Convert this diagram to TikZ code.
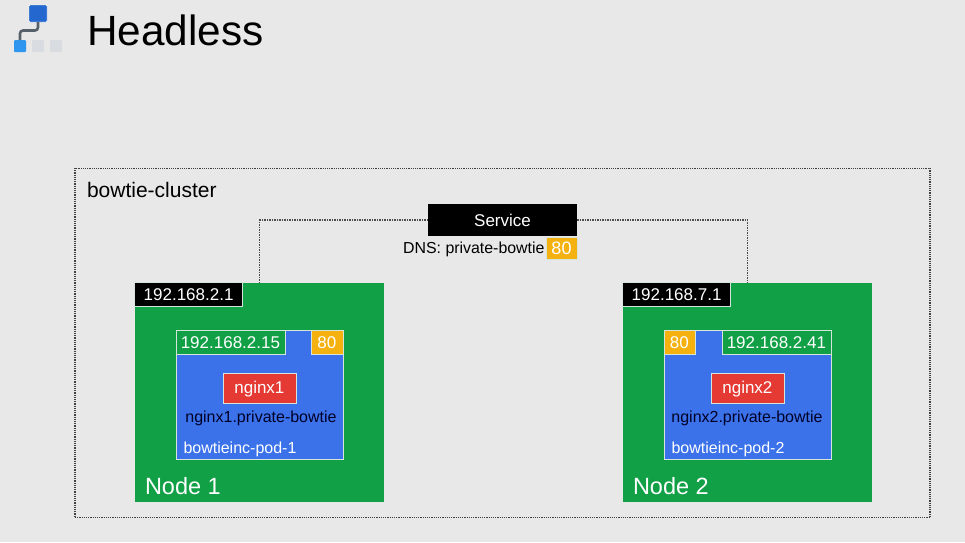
\documentclass[tikz,border=0pt]{standalone}
\usepackage{fontspec}
\setmainfont{Liberation Sans}
\definecolor{pagegrey}{HTML}{E8E8E8}
\definecolor{nodegreen}{HTML}{11A046}
\definecolor{podblue}{HTML}{3B72EA}
\definecolor{nginxred}{HTML}{E53A33}
\definecolor{portyellow}{HTML}{F5B10F}
\definecolor{edgewhite}{HTML}{D5E5DC}
\definecolor{iconblue}{HTML}{2468CF}
\definecolor{iconsky}{HTML}{2E96EE}
\definecolor{icongrey}{HTML}{D8DBDF}
\definecolor{iconline}{HTML}{56616B}
\newcommand{\px}[1]{\fontsize{#1}{#1}\selectfont}
\begin{document}
\begin{tikzpicture}[x=1pt,y=-1pt]
\tikzstyle{every node}+=[inner sep=0pt,outer sep=0pt]
\tikzstyle{box}=[anchor=north west,draw=edgewhite,line width=0.8pt,text=white,align=center]
\tikzstyle{link}=[draw=black!70,line width=1.5pt,densely dotted]
\tikzstyle{iconbox}=[anchor=north west,rounded corners=1pt]
\useasboundingbox (0,0) rectangle (965,542);
\fill [pagegrey] (0,0) rectangle (965,542);
% icon and title
\draw (29,5) node (iconbig) [iconbox,fill=iconblue,draw=white,minimum width=18pt,minimum height=17pt] {};
\draw (14,40) node (iconsmall) [iconbox,fill=iconsky,minimum width=12pt,minimum height=12pt] {};
\draw (32,40) node (icongreyone) [iconbox,fill=icongrey,minimum width=12pt,minimum height=12pt] {};
\draw (50,40) node (icongreytwo) [iconbox,fill=icongrey,minimum width=12pt,minimum height=12pt] {};
\draw [iconline,line width=2.6pt,rounded corners=3pt] (iconbig.south) -- (38,30.5) -- (20,30.5) -- (iconsmall.north);
\draw (87,30.5) node (title) [anchor=west,text=black] {\px{42.3}Headless};
% cluster
\draw (74.9,168.3) node (cluster) [anchor=north west,draw=black!75,line width=1.2pt,densely dotted,minimum width=855pt,minimum height=349.5pt] {};
\draw (87,190) node (clusterlabel) [anchor=west] {\px{21}bowtie-cluster};
% node boxes
\draw (135,283) node (nodeone) [anchor=north west,fill=nodegreen,minimum width=249pt,minimum height=219pt] {};
\draw (623,283) node (nodetwo) [anchor=north west,fill=nodegreen,minimum width=249pt,minimum height=219pt] {};
% service
\draw (428,204) node (service) [anchor=north west,fill=black,text=white,minimum width=149pt,minimum height=32pt] {\px{17}Service};
\draw (544.5,249.2) node (dnslabel) [anchor=east] {\px{15.9}DNS: private-bowtie};
\draw (546,237) node (serviceport) [box,fill=portyellow,minimum width=31pt,minimum height=22pt] {\px{18}80};
\draw [link] (service.west) -| (nodeone.north);
\draw [link] (service.east) -| (nodetwo.north);
% node 1
\draw (134.6,282.6) node (ipone) [box,fill=black,minimum width=108pt,minimum height=24pt] {\px{17}192.168.2.1};
\draw (175.9,330.8) node (podone) [box,fill=podblue,minimum width=167pt,minimum height=129pt] {};
\draw (175.9,330.8) node (podipone) [box,fill=nodegreen,minimum width=109pt,minimum height=24pt] {\px{17}192.168.2.15};
\draw (310.9,330.8) node (portone) [box,fill=portyellow,minimum width=32pt,minimum height=24pt] {\px{17}80};
\draw (222.9,373.8) node (nginxone) [box,fill=nginxred,minimum width=73pt,minimum height=30pt] {\px{17}nginx1};
\draw (261,418.2) node (dnsone) [text=black!85!blue] {\px{16}nginx1.private-bowtie};
\draw (183.5,449.2) node (podlabelone) [anchor=west,text=white] {\px{16}bowtieinc-pod-1};
\draw (145,486) node (labelone) [anchor=west,text=white] {\px{23.5}Node 1};
% node 2
\draw (622.6,282.6) node (iptwo) [box,fill=black,minimum width=108pt,minimum height=24pt] {\px{17}192.168.7.1};
\draw (663.9,330.8) node (podtwo) [box,fill=podblue,minimum width=167pt,minimum height=129pt] {};
\draw (721.9,330.8) node (podiptwo) [box,fill=nodegreen,minimum width=109pt,minimum height=24pt] {\px{17}192.168.2.41};
\draw (663.9,330.8) node (porttwo) [box,fill=portyellow,minimum width=31pt,minimum height=24pt] {\px{17}80};
\draw (710.9,373.8) node (nginxtwo) [box,fill=nginxred,minimum width=73pt,minimum height=30pt] {\px{17}nginx2};
\draw (747,418.2) node (dnstwo) [text=black!85!blue] {\px{16}nginx2.private-bowtie};
\draw (671.5,449.2) node (podlabeltwo) [anchor=west,text=white] {\px{16}bowtieinc-pod-2};
\draw (633,486) node (labeltwo) [anchor=west,text=white] {\px{23.5}Node 2};
\end{tikzpicture}
\end{document}
